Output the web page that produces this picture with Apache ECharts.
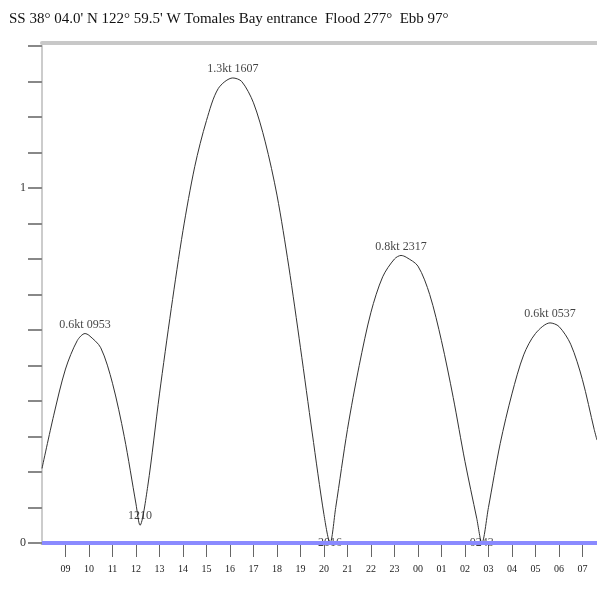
<!DOCTYPE html>
<html>
<head>
<meta charset="utf-8">
<script src="https://cdn.jsdelivr.net/npm/echarts@6/dist/echarts.min.js"></script>
<style>
  html, body { margin: 0; padding: 0; background: #fff; }
  #chart { width: 597px; height: 592px; }
</style>
</head>
<body>
<div id="chart"></div>
<script>
// hours after 08:00, current speed in knots
var hours = [0, 0.5, 1, 1.5, 1.83, 2, 2.5, 3, 3.5, 4, 4.17, 4.5, 5, 5.5, 6, 6.5, 7, 7.5, 8.12, 8.5, 9, 9.5, 10, 10.5, 11, 11.5, 12, 12.26,
  12.5, 13, 13.5, 14, 14.5, 15, 15.28, 15.5, 16, 16.5, 17, 17.5, 18, 18.5, 18.72, 19, 19.5, 20, 20.5, 21, 21.62, 22, 22.5, 23, 23.5, 23.62];
var speed = [0.21, 0.36, 0.49, 0.57, 0.59, 0.585, 0.55, 0.45, 0.30, 0.11, 0.05, 0.16, 0.42, 0.66, 0.88, 1.06, 1.19, 1.28, 1.31, 1.30, 1.24, 1.13, 0.98, 0.78, 0.55, 0.31, 0.08, 0.0,
  0.10, 0.32, 0.50, 0.65, 0.75, 0.80, 0.81, 0.805, 0.78, 0.70, 0.57, 0.41, 0.23, 0.07, 0.0, 0.10, 0.28, 0.42, 0.53, 0.59, 0.62, 0.61, 0.56, 0.46, 0.32, 0.29];

var eventHours = [1.83, 4.17, 8.12, 12.26, 15.28, 18.72, 21.62];
var eventSpeed = [0.59, 0.05, 1.31, 0.0, 0.81, 0.0, 0.62];
var eventText = ['0.6kt 0953', '1210', '1.3kt 1607', '2016', '0.8kt 2317', '0243', '0.6kt 0537'];

var startHour = 8;
var title = "SS 38\u00b0 04.0' N 122\u00b0 59.5' W Tomales Bay entrance  Flood 277\u00b0  Ebb 97\u00b0";

var chart = echarts.init(document.getElementById('chart'));

var font = 'Liberation Serif';

var option = {
  animation: false,
  backgroundColor: '#fff',
  title: {
    text: title,
    left: 4,
    top: 7,
    textStyle: { fontFamily: font, fontSize: 15, fontWeight: 'normal', color: '#111' }
  },
  grid: { left: 42, right: 0, top: 46, bottom: 49 },
  xAxis: [{
    type: 'value',
    min: 0,
    max: 23.62,
    interval: 1,
    offset: 17,
    axisLine: { lineStyle: { color: '#aaa', width: 3 } },
    axisTick: { show: true, length: 14, lineStyle: { color: '#666', width: 1 } },
    splitLine: { show: false },
    axisLabel: {
      showMinLabel: false,
      showMaxLabel: false,
      fontFamily: font,
      fontSize: 10,
      color: '#222',
      margin: 4,
      formatter: function (v) {
        var h = (startHour + Math.round(v)) % 24;
        return (h < 10 ? '0' : '') + h;
      }
    }
  }, {
    type: 'value',
    position: 'top',
    min: 0,
    max: 23.62,
    offset: 3,
    axisLine: { show: true, lineStyle: { color: '#c8c8c8', width: 4 } },
    axisTick: { show: false },
    axisLabel: { show: false },
    splitLine: { show: false }
  }],
  yAxis: {
    type: 'value',
    min: 0,
    max: 1.4,
    interval: 0.1,
    axisLine: { show: true, lineStyle: { color: '#ccc', width: 2 } },
    axisTick: { show: true, length: 14, lineStyle: { color: '#888', width: 2 } },
    splitLine: { show: false },
    axisLabel: {
      fontFamily: font,
      fontSize: 12,
      color: '#333',
      margin: 16,
      formatter: function (v) {
        if (Math.abs(v) < 1e-6) return '0';
        if (Math.abs(v - 1) < 1e-6) return '1';
        return '';
      }
    }
  },
  series: [{
    type: 'line',
    data: hours.map(function (h, i) { return [h, speed[i]]; }),
    smooth: 0.3,
    showSymbol: false,
    lineStyle: { color: '#333', width: 1 },
    markLine: {
      silent: true,
      symbol: 'none',
      label: { show: false },
      lineStyle: { color: '#8a8aff', width: 4, type: 'solid' },
      data: [{ yAxis: 0 }]
    },
    z: 3
  }, {
    type: 'scatter',
    data: eventHours.map(function (h, i) {
      var item = { value: [h, eventSpeed[i], eventText[i]] };
      if (eventSpeed[i] === 0) item.label = { position: 'inside' };
      return item;
    }),
    symbolSize: 0,
    label: {
      show: true,
      position: 'top',
      distance: 3,
      fontFamily: font,
      fontSize: 12,
      color: '#111',
      formatter: function (p) { return p.data.value[2]; }
    },
    z: 4
  }]
};

chart.setOption(option);
</script>
</body>
</html>
